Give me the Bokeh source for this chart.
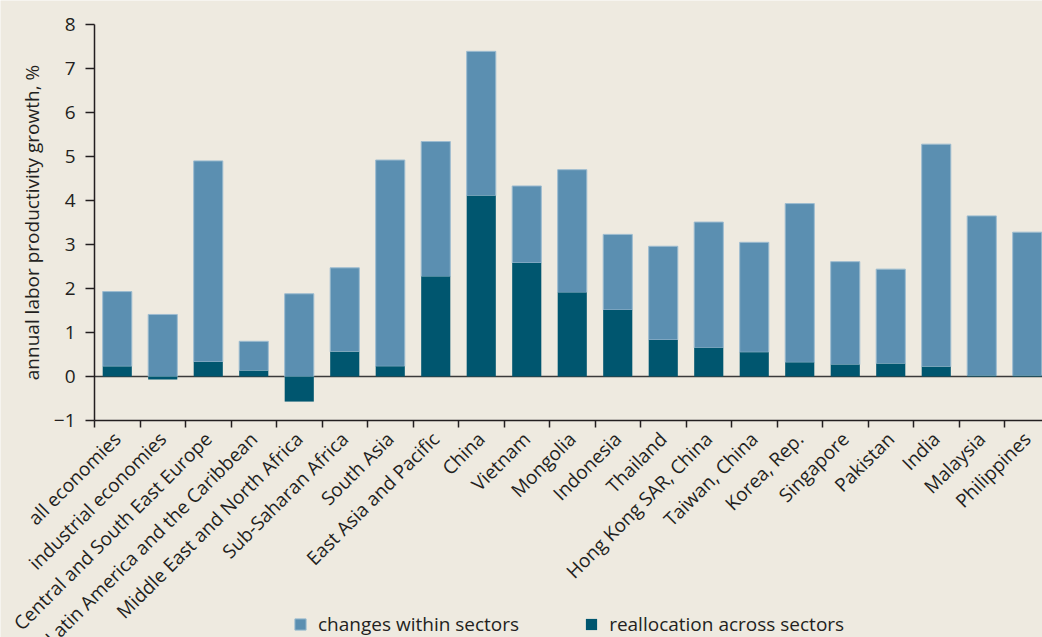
import math
from bokeh.plotting import figure
from bokeh.models import (Range1d, FixedTicker, Legend, LegendItem,
                          ColumnDataSource)
from bokeh.embed import file_html
from bokeh.resources import INLINE

# ---------------- data ----------------
categories = [
    "all economies", "industrial economies", "Central and South East Europe",
    "Latin America and the Caribbean", "Middle East and North Africa",
    "Sub-Saharan Africa", "South Asia", "East Asia and Pacific", "China",
    "Vietnam", "Mongolia", "Indonesia", "Thailand", "Hong Kong SAR, China",
    "Taiwan, China", "Korea, Rep.", "Singapore", "Pakistan", "India",
    "Malaysia", "Philippines",
]
within_sectors = [1.70, 1.41, 4.57, 0.67, 1.88, 1.91, 4.69, 3.07, 3.28, 1.75,
                  2.79, 1.72, 2.13, 2.86, 2.50, 3.61, 2.34, 2.15, 5.06, 3.63,
                  3.26]
reallocation = [0.23, -0.07, 0.33, 0.13, -0.57, 0.56, 0.23, 2.27, 4.11, 2.58,
                1.91, 1.51, 0.83, 0.65, 0.55, 0.32, 0.27, 0.29, 0.22, 0.02,
                0.02]
y_ticks = [-1, 0, 1, 2, 3, 4, 5, 6, 7, 8]
series_names = ["changes within sectors", "reallocation across sectors"]

# ---------------- styles ----------------
BG = "#EEEAE0"
LIGHT = "#5B8FB1"
DARK = "#00566F"
INK = "#231F20"
FONT = "Open Sans"
W, H = 1042, 637
PX_X = 45.5     # pixels per category
PX_Y = 44.0     # pixels per unit
LEFT, TOP = 94, 24   # position of the axes corner / top tick in pixels

xs = list(range(len(categories)))
base = [max(r, 0.0) for r in reallocation]
top = [b + w for b, w in zip(base, within_sectors)]
src = ColumnDataSource(dict(x=xs, base=base, top=top, realloc=reallocation,
                            zero=[0.0] * len(xs)))

x_lo = -0.5
x_start = x_lo - LEFT / PX_X
x_end = x_start + W / PX_X
y_end = y_ticks[-1] + TOP / PX_Y
y_start = y_end - H / PX_Y

p = figure(width=W, height=H, output_backend="svg", toolbar_location=None,
           x_range=Range1d(x_start, x_end), y_range=Range1d(y_start, y_end))
p.min_border = 0
p.background_fill_color = BG
p.border_fill_color = BG
p.outline_line_color = None
p.grid.visible = False

# zero baseline from the y axis to the right edge
p.segment(x0=[x_lo], y0=[0], x1=[x_end], y1=[0], line_color="#3a3a3a",
          line_width=1.5)

r_light = p.vbar(x="x", bottom="base", top="top", width=0.64, source=src,
                 fill_color=LIGHT, line_color="#9dbcd0", line_width=1)
r_dark = p.vbar(x="x", bottom="zero", top="realloc", width=0.64, source=src,
                fill_color=DARK, line_color=None)

# y axis
ya = p.yaxis[0]
ya.fixed_location = x_lo
ya.bounds = (y_ticks[0], y_ticks[-1])
ya.ticker = FixedTicker(ticks=y_ticks, minor_ticks=[])
ya.major_label_overrides = {-1: "\u22121"}
ya.axis_label = "annual labor productivity growth, %"
ya.axis_label_text_font = FONT
ya.axis_label_text_font_size = "19px"
ya.axis_label_text_font_style = "normal"
ya.axis_label_text_color = INK
ya.axis_label_standoff = 6
ya.major_label_text_font = FONT
ya.major_label_text_font_size = "19px"
ya.major_label_text_color = INK
ya.major_label_standoff = 10
ya.major_tick_in = 0
ya.major_tick_out = 9
ya.major_tick_line_color = INK
ya.major_tick_line_width = 1.5
ya.minor_tick_line_color = None
ya.axis_line_color = INK
ya.axis_line_width = 1.5

# x axis (drawn at y = -1)
xa = p.xaxis[0]
xa.fixed_location = y_ticks[0]
xa.bounds = (x_lo, x_end)
xa.ticker = FixedTicker(ticks=xs, minor_ticks=[i - 0.5 for i in range(len(xs) + 1)])
xa.major_label_overrides = {i: c for i, c in zip(xs, categories)}
xa.major_label_orientation = math.pi / 4
xa.major_label_text_font = FONT
xa.major_label_text_font_size = "19px"
xa.major_label_text_color = INK
xa.major_label_standoff = 8
xa.major_tick_in = 0
xa.major_tick_out = 0
xa.major_tick_line_color = None
xa.minor_tick_in = 0
xa.minor_tick_out = 7
xa.minor_tick_line_color = INK
xa.minor_tick_line_width = 1.5
xa.axis_line_color = INK
xa.axis_line_width = 1.5

legend = Legend(items=[LegendItem(label=series_names[0], renderers=[r_light]),
                       LegendItem(label=series_names[1], renderers=[r_dark])],
                location=(293, 0), orientation="horizontal",
                glyph_width=14, glyph_height=14, label_standoff=11,
                spacing=65, padding=0, margin=0,
                label_text_font=FONT, label_text_font_size="19px",
                label_text_color=INK, border_line_color=None,
                background_fill_alpha=0)
p.add_layout(legend)

open("out.html", "w").write(file_html(p, INLINE))
